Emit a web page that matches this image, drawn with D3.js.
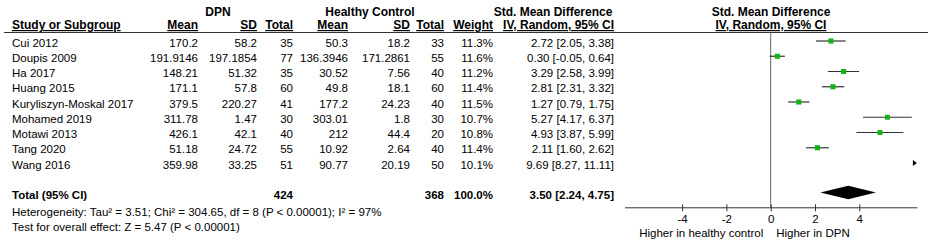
<!DOCTYPE html>
<html><head><meta charset="utf-8">
<script src="https://cdn.jsdelivr.net/npm/d3@7"></script>
<style>
html,body{margin:0;padding:0;background:#fff;}
svg text{font-family:"Liberation Sans",Arial,sans-serif;font-size:11.5px;fill:#000;}
</style></head>
<body><svg id="c" width="932" height="244"></svg>
<script>
const studies = ["Cui 2012","Doupis 2009","Ha 2017","Huang 2015","Kuryliszyn-Moskal 2017","Mohamed 2019","Motawi 2013","Tang 2020","Wang 2016"];
const dpnMean = ["170.2","191.9146","148.21","171.1","379.5","311.78","426.1","51.18","359.98"];
const dpnSD   = ["58.2","197.1854","51.32","57.8","220.27","1.47","42.1","24.72","33.25"];
const dpnN    = [35,77,35,60,41,30,40,55,51];
const hcMean  = ["50.3","136.3946","30.52","49.8","177.2","303.01","212","10.92","90.77"];
const hcSD    = ["18.2","171.2861","7.56","18.1","24.23","1.8","44.4","2.64","20.19"];
const hcN     = [33,55,40,60,40,30,20,40,50];
const weight  = [11.3,11.6,11.2,11.4,11.5,10.7,10.8,11.4,10.1];
const smd     = [2.72,0.30,3.29,2.81,1.27,5.27,4.93,2.11,9.69];
const ciLow   = [2.05,-0.05,2.58,2.31,0.79,4.17,3.87,1.60,8.27];
const ciHigh  = [3.38,0.64,3.99,3.32,1.75,6.37,5.99,2.62,11.11];
const total   = {dpnN:424, hcN:368, weight:100.0, smd:3.50, lo:2.24, hi:4.75};
const hetText = "Heterogeneity: Tau² = 3.51; Chi² = 304.65, df = 8 (P < 0.00001); I² = 97%";
const testText = "Test for overall effect: Z = 5.47 (P < 0.00001)";
const axisTicks = [-4,-2,0,2,4];
const axisDomain = [-6.6, 6.6];

const svg = d3.select("#c");
const f2 = v => d3.format(".2f")(v).replace("\u2212","-"), f1 = d3.format(".1f");
const x = d3.scaleLinear().domain(axisDomain).range([624.5, 916.9]);
const y = d3.scalePoint().domain(studies).range([41, 163]);
const totalY = 192.5, axisY = 207.3;

const h1 = 16, h2 = 29;
function txt(t, xx, yy, anchor, bold, underline, size){
  const e = svg.append("text").attr("x", xx).attr("y", yy).attr("text-anchor", anchor||"start").text(t);
  if (bold) e.attr("font-weight","bold");
  if (underline) e.attr("text-decoration","underline");
  if (size) e.style("font-size", size+"px");
  return e;
}
const HS = 12;
txt("DPN", 218, h1, "middle", true, false, HS);
txt("Healthy Control", 370, h1, "middle", true, false, HS);
txt("Std. Mean Difference", 553, h1, "middle", true, false, HS);
txt("Std. Mean Difference", 771, h1, "middle", true, false, HS);
txt("Study or Subgroup", 12, h2, "start", true, true, HS);
const cols = {dm:198, ds:257, dn:293, hm:348, hs:410, hn:444, w:493, ci:614};
txt("Mean", cols.dm, h2, "end", true, true, HS);
txt("SD", cols.ds, h2, "end", true, true, HS);
txt("Total", cols.dn, h2, "end", true, true, HS);
txt("Mean", cols.hm, h2, "end", true, true, HS);
txt("SD", cols.hs, h2, "end", true, true, HS);
txt("Total", cols.hn, h2, "end", true, true, HS);
txt("Weight", cols.w, h2, "end", true, true, HS);
txt("IV, Random, 95% CI", cols.ci, h2, "end", true, true, HS);
txt("IV, Random, 95% CI", 771, h2, "middle", true, true, HS);

svg.append("line").attr("x1",4).attr("x2",928).attr("y1",32.5).attr("y2",32.5)
  .attr("stroke","#333").attr("stroke-width",1);

svg.append("line").attr("x1",x(0)).attr("x2",x(0)).attr("y1",32.5).attr("y2",axisY)
  .attr("stroke","#666").attr("stroke-width",1);

studies.forEach((s,i)=>{
  const yy = y(s), tb = yy + 5.5;
  txt(s, 12, tb);
  txt(dpnMean[i], cols.dm, tb, "end");
  txt(dpnSD[i], cols.ds, tb, "end");
  txt(dpnN[i], cols.dn, tb, "end");
  txt(hcMean[i], cols.hm, tb, "end");
  txt(hcSD[i], cols.hs, tb, "end");
  txt(hcN[i], cols.hn, tb, "end");
  txt(f1(weight[i])+"%", cols.w, tb, "end");
  txt(f2(smd[i])+" ["+f2(ciLow[i])+", "+f2(ciHigh[i])+"]", cols.ci, tb, "end");
  const [d0,d1] = axisDomain;
  if (ciLow[i] > d1) {
    const xe = x(d1);
    svg.append("path").attr("d", `M${xe-4},${yy-3}L${xe},${yy}L${xe-4},${yy+3}Z`).attr("fill","#000");
  } else {
    svg.append("line").attr("x1", x(Math.max(ciLow[i],d0))).attr("x2", x(Math.min(ciHigh[i],d1)))
      .attr("y1", yy).attr("y2", yy).attr("stroke","#333").attr("stroke-width",1.2);
    const sz = 5*Math.sqrt(weight[i]/11);
    svg.append("rect").attr("x", x(smd[i])-sz/2).attr("y", yy-sz/2).attr("width", sz).attr("height", sz)
      .attr("fill","#14b414");
  }
});

const tb = totalY + 6;
txt("Total (95% CI)", 12, tb, "start", true);
txt(total.dpnN, cols.dn, tb, "end", true);
txt(total.hcN, cols.hn, tb, "end", true);
txt(f1(total.weight)+"%", cols.w, tb, "end", true);
txt(f2(total.smd)+" ["+f2(total.lo)+", "+f2(total.hi)+"]", cols.ci, tb, "end", true);
svg.append("path")
  .attr("d", `M${x(total.lo)},${totalY}L${x(total.smd)},${totalY-6.8}L${x(total.hi)},${totalY}L${x(total.smd)},${totalY+6.8}Z`)
  .attr("fill","#000");

txt(hetText, 12, 215.5);
txt(testText, 12, 230.5);

const ax = svg.append("g").attr("transform", `translate(0,${axisY})`)
  .call(d3.axisBottom(x).tickValues(axisTicks).tickSize(4).tickSizeOuter(0).tickFormat(d3.format("d")));
ax.attr("font-family", null).attr("font-size", null);
ax.select(".domain").attr("stroke","#333");
ax.selectAll(".tick line").attr("y1",-3).attr("y2",4).attr("stroke","#333");
ax.selectAll(".tick text").attr("y",16).attr("dy",0).attr("fill","#000")
  .text(d => d < 0 ? "-" + Math.abs(d) : d);

txt("Higher in healthy control", x(0)-7.5, 237, "end");
txt("Higher in DPN", x(0)+5.5, 237, "start");
</script></body></html>
